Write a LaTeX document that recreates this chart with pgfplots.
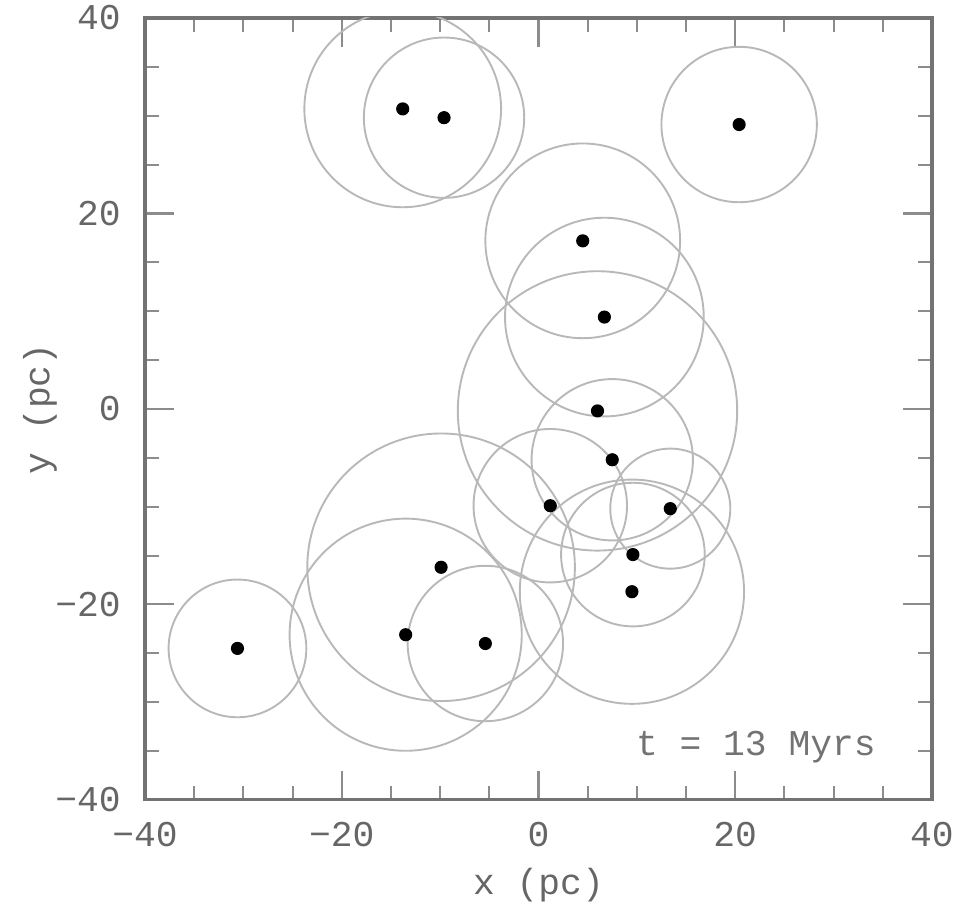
\documentclass[border=0pt]{standalone}
\usepackage{fontspec}
\setmainfont{Liberation Mono}
\usepackage{pgfplots}
\pgfplotsset{compat=1.18}
\usepackage{pgfplotstable}

% cluster centres (pc) and circle radii (pc)
\pgfplotstableread{
x      y      r
-13.8  30.7  10.0
-9.6   29.8   8.15
20.4   29.1   7.9
4.5    17.2   9.9
6.7    9.4   10.1
6.0   -0.2   14.2
7.5   -5.2    8.2
1.2   -9.9    7.8
13.4  -10.2   6.1
9.6   -14.9   7.3
9.5   -18.7  11.4
-9.9  -16.2  13.6
-13.5 -23.1  11.8
-5.4  -24.0   7.9
-30.6 -24.5   7.0
}\clusters

\begin{document}
\begin{tikzpicture}
\begin{axis}[
  name=ax,
  x=1mm, y=0.9936mm,
  xmin=-40, xmax=40, ymin=-40, ymax=40,
  xtick={-40,-20,0,20,40},
  ytick={-40,-20,0,20,40},
  xticklabels={−40,−20,0,20,40},
  yticklabels={−40,−20,0,20,40},
  minor tick num=3,
  tick align=inside,
  major tick length=2.9mm,
  minor tick length=1.4mm,
  every tick/.style={black!45, line width=0.6pt},
  axis line style={black!55, line width=0.9pt},
  tick label style={font=\fontsize{10.5}{12}\selectfont, text=black!60, inner sep=0pt},
  xticklabel style={yshift=-2.2mm},
  yticklabel style={xshift=-2.4mm},
  label style={font=\fontsize{10.5}{12}\selectfont, text=black!60},
  xlabel={x (pc)},
  ylabel={y (pc)},
  xlabel style={at={(axis description cs:0.5,-0.1087)}, anchor=center},
  ylabel style={at={(axis description cs:-0.1334,0.5)}, anchor=center},
  clip marker paths=true,
]
\addplot[scatter, only marks, mark=o, line width=0.55pt,
  scatter/use mapped color={draw=black!28},
  visualization depends on={\thisrow{r}\as\rad},
  scatter/@pre marker code/.append style={/tikz/mark size=\rad mm}]
  table[x=x,y=y] {\clusters};
\addplot[only marks, mark=*, mark size=1.7pt, black] table[x=x,y=y] {\clusters};
\node[font=\fontsize{10.5}{12}\selectfont, text=black!55] at (axis cs:22.1,-34.6) {t = 13 Myrs};
\end{axis}
\path ([xshift=-14.74mm,yshift=-11.08mm]ax.south west) rectangle ([xshift=2.24mm,yshift=1.83mm]ax.north east);
\end{tikzpicture}
\end{document}
